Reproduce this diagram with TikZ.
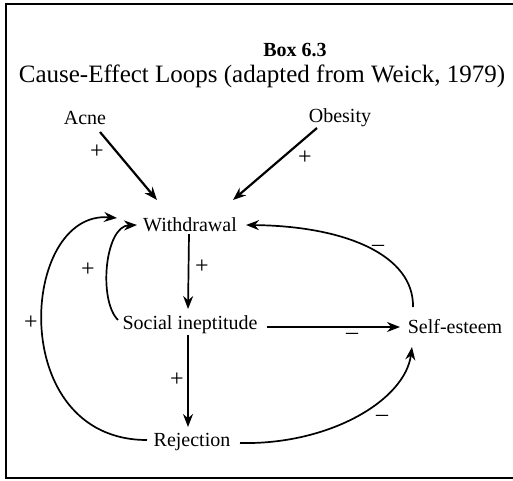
\documentclass[tikz,border=0pt]{standalone}
\usepackage{fontspec}
\setmainfont{Liberation Serif}
\usetikzlibrary{arrows.meta,calc}
\begin{document}
\begin{tikzpicture}[x=1pt,y=-1pt,
  lab/.style={inner sep=1pt,font=\fontsize{20}{24}\selectfont},
  ttl/.style={inner sep=1pt,font=\fontsize{25}{30}\selectfont},
  sgn/.style={inner sep=0pt,font=\fontsize{24}{28}\selectfont},
  arr/.style={line width=1.7pt,-{Stealth[length=13pt,width=10pt]}},
  thick arr/.style={arr,line width=2.2pt},
  thin arr/.style={arr,line width=1.3pt}]
\useasboundingbox (0,0) rectangle (513,480);
\fill[white] (0,0) rectangle (513,480);
\draw[line width=1.5pt] (513,4) -- (6,4) -- (6,478) -- (513,478);
% texts
\node[lab] (box) at (295,50) {\bfseries Box 6.3};
\node[ttl] (title) at (262,76) {Cause-Effect Loops (adapted from Weick, 1979)};
\node[lab] (acne) at (85,118) {Acne};
\node[lab] (obes) at (340,118) {Obesity};
\node[lab] (with) at (190,225) {Withdrawal};
\node[lab] (soc) at (190,325) {Social ineptitude};
\node[lab] (self) at (455,327) {Self-esteem};
\node[lab] (rej) at (192,442) {Rejection};
% connectors
\draw[thick arr] ($(acne)+(15,14)$) -- ($(with)+(-33,-25)$);
\draw[thick arr] ($(obes)+(-23,10)$) -- ($(with)+(43,-25)$);
\draw[arr] ($(with)+(-1,9)$) -- ($(soc)+(-2,-16)$);
\draw[arr] ($(soc)+(-2,10)$) -- ($(rej)+(-4,-15)$);
\draw[thin arr] ($(soc)+(77,2)$) -- ($(self)+(-55,0)$);
\draw[arr] ($(self)+(-42,-20)$) .. controls ($(self)+(-41,-72)$) and ($(with)+(155,1)$) .. ($(with)+(56,0)$);
\draw[arr] ($(soc)+(-72,-5)$) .. controls ($(soc)+(-92,-25)$) and ($(with)+(-85,1)$) .. ($(with)+(-53,0)$);
\draw[arr] ($(rej)+(-45,-2)$) .. controls ($(rej)+(-187,-2)$) and ($(with)+(-170,-15)$) .. ($(with)+(-73,-7)$);
\draw[arr] ($(rej)+(48,1)$) .. controls ($(rej)+(138,3)$) and ($(self)+(-50,73)$) .. ($(self)+(-43,20)$);
% signs
\node[sgn] (p1) at (97,152) {+};
\node[sgn] (p2) at (305,158) {+};
\node[sgn] (p3) at (202,267) {+};
\node[sgn] (p4) at (177,380) {+};
\node[sgn] (p5) at (88,270) {+};
\node[sgn] (p6) at (31,323) {+};
\node[sgn] (m1) at (378,248) {–};
\node[sgn] (m2) at (352,336) {–};
\node[sgn] (m3) at (382,418) {–};
\end{tikzpicture}
\end{document}
